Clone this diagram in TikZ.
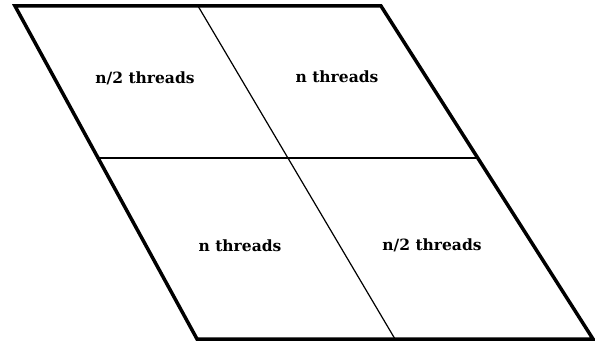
\documentclass[tikz,border=0pt]{standalone}
\usepackage{fontspec}
\setmainfont{DejaVu Serif}
\begin{document}
\begin{tikzpicture}[x=1pt,y=-1pt,
	lbl/.style={font=\bfseries\fontsize{15.5}{18}\selectfont}]
	\useasboundingbox (0,0) rectangle (595,345);
	\draw [line width=3.5pt,line join=miter] (15,6) -- (381,6) -- (593,339) -- (197,339) -- cycle;	% outer border
	\draw [line width=2pt] (98,158) -- (477,158);	% horizontal split
	\draw [line width=1.2pt] (198,6) -- (395,339);	% slanted split

	\node [lbl] (tl) at (145,78) {n/2 threads};
	\node [lbl] (tr) at (337,77) {n threads};
	\node [lbl] (bl) at (240,246) {n threads};
	\node [lbl] (br) at (432,245) {n/2 threads};
\end{tikzpicture}
\end{document}
